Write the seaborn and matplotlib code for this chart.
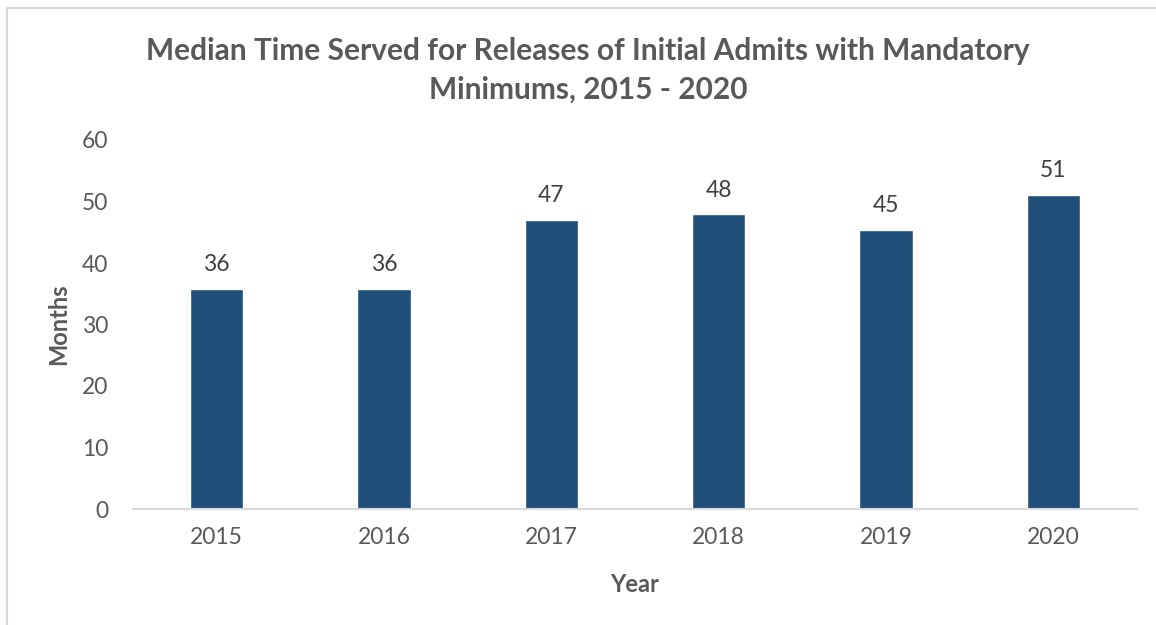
import matplotlib
matplotlib.use("Agg")
import matplotlib.pyplot as plt
import seaborn as sns
import pandas as pd
from matplotlib.patches import Rectangle

years = ["2015", "2016", "2017", "2018", "2019", "2020"]
months = [35.8, 35.8, 47.0, 47.9, 45.4, 51.1]
labels = ["36", "36", "47", "48", "45", "51"]

sns.set_theme(style="white")
plt.rcParams['font.family'] = ['Lato', 'DejaVu Sans']

df = pd.DataFrame({"Year": years, "Months": months})

fig = plt.figure(figsize=(11.56, 6.25), dpi=100)
ax = fig.add_axes([133/1156, 1-509/625, (1137-133)/1156, (509-140)/625])

sns.barplot(data=df, x="Year", y="Months", color="#1F4E79", width=0.32,
            saturation=1, ax=ax)

for p, lab in zip(ax.patches, labels):
    ax.annotate(lab, (p.get_x() + p.get_width()/2, p.get_height()),
                xytext=(0, 10), textcoords="offset points", ha="center",
                va="bottom", fontsize=16.5, color="#404040")

ax.set_ylim(0, 60)
ax.set_yticks([0, 10, 20, 30, 40, 50, 60])
ax.set_xlim(-0.5, 5.5)
for s in ["top", "right", "left"]:
    ax.spines[s].set_visible(False)
ax.spines["bottom"].set_color("#D9D9D9")
ax.spines["bottom"].set_linewidth(1.5)
ax.tick_params(axis="both", length=0, labelsize=16.5, colors="#595959")
ax.tick_params(axis="y", pad=18)
ax.tick_params(axis="x", pad=13)
ax.set_xlabel("Year", fontsize=17, fontweight="bold", color="#595959", labelpad=18)
ax.set_ylabel("Months", fontsize=17, fontweight="bold", color="#595959", labelpad=8)

fig.text(588/1156, 1-70/625, "Median Time Served for Releases of Initial Admits with Mandatory\nMinimums, 2015 - 2020",
         ha="center", va="center", fontsize=21.5, fontweight="bold", color="#595959",
         linespacing=1.45)

fig.patches.append(Rectangle((7/1156, -0.1), 1.1, 1 - 8/625 + 0.1,
                             transform=fig.transFigure, fill=False,
                             edgecolor="#D9D9D9", linewidth=1.5))

fig.savefig("out.png", dpi=100)
